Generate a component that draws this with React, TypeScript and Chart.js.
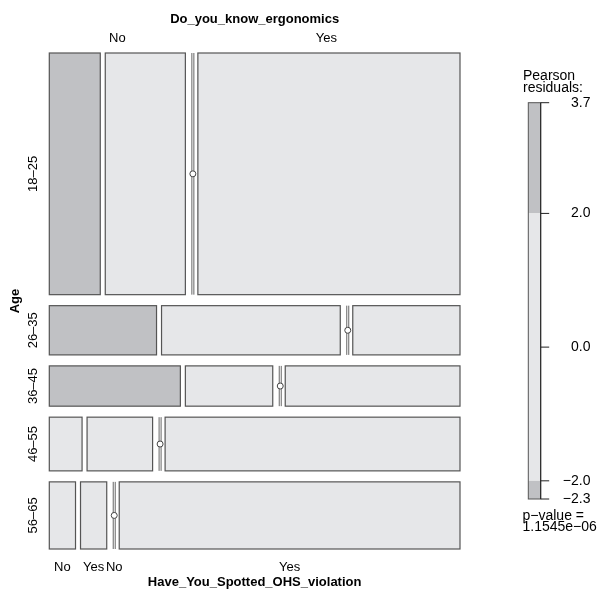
import React, { useEffect, useRef } from "react";
import { Chart, registerables } from "chart.js";
Chart.register(...registerables);

// ---- data ----
const ageLevels = ["18–25", "26–35", "36–45", "46–55", "56–65"];
const ergLevels = ["No", "Yes"];
const ohsLevels = ["No", "Yes"];
// per age group: [erg No & OHS No, erg No & OHS Yes, erg Yes & OHS No, erg Yes & OHS Yes]
const counts18_25 = [7, 11, 0, 36];
const counts26_35 = [3, 5, 0, 3];
const counts36_45 = [3, 2, 0, 4];
const counts46_55 = [1, 2, 0, 9];
const counts56_65 = [1, 1, 0, 13];
const counts = [counts18_25, counts26_35, counts36_45, counts46_55, counts56_65];
const legendTicks = [2, 0, -2];
const pValueText = "1.1545e−06";
const titleTop = "Do_you_know_ergonomics";
const titleLeft = "Age";
const titleBottom = "Have_You_Spotted_OHS_violation";

// ---- styling / layout constants ----
const W = 598;
const H = 590;
const PLOT = { left: 49.3, right: 460, top: 53, bottom: 549 };
const GAP_OHS = 5 / (PLOT.right - PLOT.left);
const GAP_ERG = 7.5 / (PLOT.right - PLOT.left);
const GAP_AGE = 11 / (PLOT.bottom - PLOT.top);
const FILL_HI = "rgb(192,193,196)";
const FILL_MID = "rgb(230,231,233)";
const FILL_LO = "rgb(192,193,196)";
const BORDER = "#555555";
const FONT = '"Liberation Sans", Arial, Helvetica, sans-serif';

// ---- residuals (mutual independence) ----
const N = counts.reduce((s, r) => s + r.reduce((a, b) => a + b, 0), 0);
const ageM = counts.map((r) => r.reduce((a, b) => a + b, 0));
const ergM = [0, 1].map((e) => counts.reduce((s, r) => s + r[e * 2] + r[e * 2 + 1], 0));
const ohsM = [0, 1].map((o) => counts.reduce((s, r) => s + r[o] + r[2 + o], 0));
const residuals = counts.map((r, i) =>
  r.map((c, k) => {
    const e = Math.floor(k / 2);
    const o = k % 2;
    const ex = (ageM[i] * ergM[e] * ohsM[o]) / (N * N);
    return (c - ex) / Math.sqrt(ex);
  })
);
const allRes = residuals.flat();
const resMax = Math.max(...allRes);
const resMin = Math.min(...allRes);

function fillFor(r: number) {
  if (r > 2) return FILL_HI;
  if (r < -2) return FILL_LO;
  return FILL_MID;
}

type Cell = { i: number; e: number; o: number; x0: number; x1: number; y0: number; y1: number; n: number; r: number };

function buildCells(): Cell[] {
  const cells: Cell[] = [];
  const availY = 1 - GAP_AGE * (counts.length - 1);
  let y = 0;
  counts.forEach((row, i) => {
    const tot = ageM[i];
    const h = (tot / N) * availY;
    const availX = 1 - GAP_ERG * (ergLevels.length - 1) - GAP_OHS * ergLevels.length * (ohsLevels.length - 1);
    let x = 0;
    for (let e = 0; e < 2; e++) {
      for (let o = 0; o < 2; o++) {
        const k = e * 2 + o;
        const w = (row[k] / tot) * availX;
        cells.push({ i, e, o, x0: x, x1: x + w, y0: y, y1: y + h, n: row[k], r: residuals[i][k] });
        x += w;
        if (o === 0) x += GAP_OHS;
      }
      if (e === 0) x += GAP_ERG;
    }
    y += h + GAP_AGE;
  });
  return cells;
}
const cells = buildCells();
const zeroPoints = cells.filter((c) => c.n === 0).map((c) => ({ x: c.x0, y: (c.y0 + c.y1) / 2 }));

function vText(ctx: any, s: string, x: number, y: number) {
  ctx.save();
  ctx.translate(x, y);
  ctx.rotate(-Math.PI / 2);
  ctx.fillText(s, 0, 0);
  ctx.restore();
}

const mosaicPlugin = {
  id: "mosaic",
  beforeDatasetsDraw(chart: any) {
    const ctx = chart.ctx;
    const xs = chart.scales.x;
    const ys = chart.scales.y;
    ctx.save();
    ctx.lineWidth = 1.2;
    ctx.strokeStyle = BORDER;
    cells.forEach((c) => {
      const xa = xs.getPixelForValue(c.x0);
      const xb = xs.getPixelForValue(c.x1);
      const ya = ys.getPixelForValue(c.y0);
      const yb = ys.getPixelForValue(c.y1);
      if (c.n === 0) {
        ctx.lineWidth = 0.9;
        ctx.beginPath();
        ctx.moveTo(xa - 1, ya); ctx.lineTo(xa - 1, yb);
        ctx.moveTo(xa + 1, ya); ctx.lineTo(xa + 1, yb);
        ctx.stroke();
        ctx.lineWidth = 1.2;
      } else {
        ctx.fillStyle = fillFor(c.r);
        ctx.fillRect(xa, ya, xb - xa, yb - ya);
        ctx.strokeRect(xa, ya, xb - xa, yb - ya);
      }
    });
    ctx.restore();
  },
  afterDraw(chart: any) {
    const ctx = chart.ctx;
    const xs = chart.scales.x;
    const ys = chart.scales.y;
    ctx.save();
    ctx.fillStyle = "#000";
    ctx.textAlign = "center";
    ctx.textBaseline = "middle";
    const midX = (xs.getPixelForValue(0) + xs.getPixelForValue(1)) / 2;
    const midY = (ys.getPixelForValue(0) + ys.getPixelForValue(1)) / 2;
    // top
    ctx.font = `bold 13px ${FONT}`;
    ctx.fillText(titleTop, midX, 19);
    ctx.font = `13px ${FONT}`;
    const top = cells.filter((c) => c.i === 0);
    ergLevels.forEach((lab, e) => {
      const g = top.filter((c) => c.e === e);
      const a = xs.getPixelForValue(Math.min(...g.map((c) => c.x0)));
      const b = xs.getPixelForValue(Math.max(...g.map((c) => c.x1)));
      ctx.fillText(lab, (a + b) / 2, 38.5);
    });
    // bottom
    const last = cells.filter((c) => c.i === counts.length - 1);
    last.forEach((c) => {
      const cx = (xs.getPixelForValue(c.x0) + xs.getPixelForValue(c.x1)) / 2;
      ctx.fillText(ohsLevels[c.o], cx, 567);
    });
    ctx.font = `bold 13px ${FONT}`;
    ctx.fillText(titleBottom, midX, 582);
    // left
    vText(ctx, titleLeft, 15, midY);
    ctx.font = `13px ${FONT}`;
    ageLevels.forEach((lab, i) => {
      const c = cells.find((cc) => cc.i === i)!;
      const cy = (ys.getPixelForValue(c.y0) + ys.getPixelForValue(c.y1)) / 2;
      vText(ctx, lab, 33, cy);
    });
    // legend
    const LX0 = 528.3, LX1 = 540.7, LT = 102.7, LB = 499;
    const ly = (v: number) => LT + ((resMax - v) / (resMax - resMin)) * (LB - LT);
    const segs: [number, number, string][] = [
      [resMax, 2, FILL_HI],
      [2, -2, FILL_MID],
      [-2, resMin, FILL_LO],
    ];
    segs.forEach(([a, b, col]) => {
      ctx.fillStyle = col;
      ctx.fillRect(LX0, ly(a), LX1 - LX0, ly(b) - ly(a));
    });
    ctx.strokeStyle = "#555";
    ctx.lineWidth = 1;
    ctx.strokeRect(LX0, LT, LX1 - LX0, LB - LT);
    ctx.strokeStyle = "#222";
    ctx.beginPath();
    ctx.moveTo(LX1, LT); ctx.lineTo(LX1, LB);
    const tickVals = [resMax, ...legendTicks, resMin];
    tickVals.forEach((v) => {
      ctx.moveTo(LX1, ly(v));
      ctx.lineTo(LX1 + 8.5, ly(v));
    });
    ctx.stroke();
    ctx.fillStyle = "#000";
    ctx.font = `14px ${FONT}`;
    ctx.textAlign = "right";
    tickVals.forEach((v) => {
      ctx.fillText(v.toFixed(1).replace("-", "−"), 590.5, ly(v));
    });
    ctx.textAlign = "left";
    ctx.fillText("Pearson", 523, 76);
    ctx.fillText("residuals:", 523, 88);
    ctx.fillText("p−value =", 522.5, 516.5);
    ctx.fillText(pValueText, 522.5, 527.5);
    ctx.restore();
  },
};

export default function App() {
  const ref = useRef<HTMLCanvasElement>(null);
  useEffect(() => {
    if (!ref.current) return;
    const chart = new Chart(ref.current, {
      type: "scatter",
      data: {
        datasets: [
          {
            label: "zero cells",
            data: zeroPoints,
            pointRadius: 3,
            pointBackgroundColor: "#ffffff",
            pointBorderColor: "#444444",
            pointBorderWidth: 1,
            showLine: false,
          },
        ],
      },
      options: {
        responsive: false,
        animation: false,
        layout: {
          padding: { left: PLOT.left, right: W - PLOT.right, top: PLOT.top, bottom: H - PLOT.bottom },
        },
        scales: {
          x: { type: "linear", min: 0, max: 1, display: false },
          y: { type: "linear", min: 0, max: 1, reverse: true, display: false },
        },
        plugins: { legend: { display: false }, tooltip: { enabled: false } },
      },
      plugins: [mosaicPlugin],
    });
    return () => chart.destroy();
  }, []);
  return (
    <div style={{ position: "absolute", left: 0, top: 0, width: W, height: H, background: "#fff" }}>
      <canvas ref={ref} width={W} height={H} />
    </div>
  );
}
